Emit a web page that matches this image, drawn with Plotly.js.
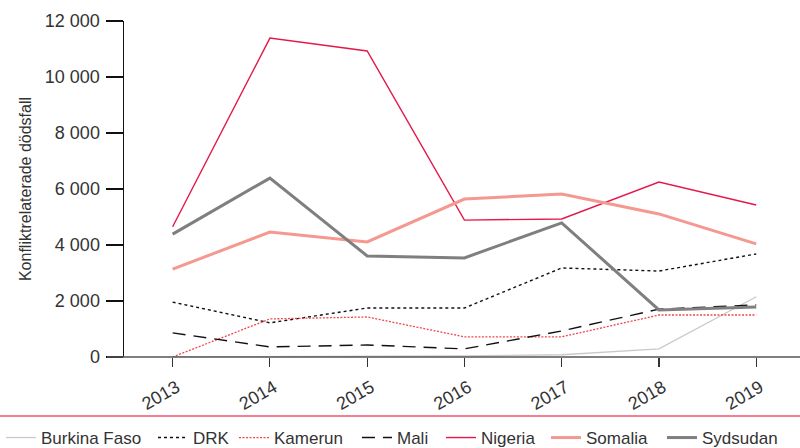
<!DOCTYPE html>
<html>
<head>
<meta charset="utf-8">
<script src="https://cdn.plot.ly/plotly-3.0.1.min.js"></script>
<style>html,body{margin:0;padding:0;background:#fff;}#chart{width:800px;height:448px;}</style>
</head>
<body>
<div id="chart"></div>
<script>
const years = [2013, 2014, 2015, 2016, 2017, 2018, 2019];
const seriesNames = ['Burkina Faso', 'DRK', 'Kamerun', 'Mali', 'Nigeria', 'Somalia', 'Sydsudan'];
const burkinaFaso = [0, 10, 20, 40, 80, 290, 2150];
const drk = [1960, 1220, 1750, 1750, 3180, 3070, 3680];
const kamerun = [0, 1360, 1430, 720, 720, 1500, 1500];
const mali = [860, 360, 430, 290, 930, 1710, 1860];
const nigeria = [4650, 11390, 10930, 4890, 4930, 6250, 5430];
const somalia = [3140, 4460, 4110, 5640, 5820, 5110, 4040];
const sydsudan = [4390, 6390, 3610, 3540, 4790, 1680, 1790];
const yTicks = [0, 2000, 4000, 6000, 8000, 10000, 12000];

const FONT = '"Liberation Sans", Arial, sans-serif';
const TXT = '#333333';

const L = 124, R = 800, T = 21, B = 357;
const pw = R - L, ph = B - T;

const styles = [
  {color: '#c9c9c9', width: 1.3},
  {color: '#111111', width: 1.4, dash: '3px,3px'},
  {color: '#f0474c', width: 1.3, dash: '2px,1.5px'},
  {color: '#111111', width: 1.4, dash: '13px,8px'},
  {color: '#e4184b', width: 1.4},
  {color: '#f49890', width: 3},
  {color: '#7f7f7f', width: 3}
];
const values = [burkinaFaso, drk, kamerun, mali, nigeria, somalia, sydsudan];
// legend item left edges in pixels
const legendPx = [1, 153, 234, 357, 441, 546, 662];

const traces = values.map((v, i) => ({
  type: 'scatter', mode: 'lines', x: years, y: v,
  name: seriesNames[i], line: styles[i],
  legend: i === 0 ? 'legend' : 'legend' + (i + 1)
}));

const layout = {
  width: 800, height: 448,
  margin: {l: L, r: 800 - R, t: T, b: 448 - B, pad: 0, autoexpand: false},
  paper_bgcolor: '#ffffff', plot_bgcolor: '#ffffff',
  font: {family: FONT, color: TXT, size: 16},
  separators: '. ',
  showlegend: true,
  xaxis: {
    range: [2012.5, 2019.45],
    tickvals: years, ticktext: years.map(String),
    tickangle: -30,
    ticks: 'outside', ticklen: 9, tickwidth: 1.2, tickcolor: '#333',
    ticklabelstandoff: 3, ticklabelshift: 4,
    showline: false, zeroline: false, showgrid: false,
    tickfont: {size: 18, color: TXT, family: FONT}
  },
  yaxis: {
    range: [0, 12000],
    tickvals: yTicks,
    tickformat: ',d', separatethousands: true,
    ticks: 'outside', ticklen: 17, tickwidth: 1.2, tickcolor: '#111',
    ticklabelstandoff: 2,
    showline: true, linecolor: '#111', linewidth: 1.5,
    showgrid: false, zeroline: false,
    tickfont: {size: 18, color: TXT, family: FONT},
    title: {text: 'Konfliktrelaterade dödsfall', font: {size: 16, color: TXT, family: FONT}, standoff: 9}
  },
  shapes: [
    {type: 'line', xref: 'paper', yref: 'paper', x0: -(L - 107) / pw, x1: 1, y0: 0, y1: 0, line: {color: '#555', width: 1.5}},
    {type: 'line', xref: 'paper', yref: 'paper', x0: -L / pw, x1: 1, y0: -(416 - B) / ph, y1: -(416 - B) / ph, line: {color: '#ef5474', width: 1.5}}
  ]
};

legendPx.forEach((px, i) => {
  const key = i === 0 ? 'legend' : 'legend' + (i + 1);
  layout[key] = {
    orientation: 'h',
    x: (px - L) / pw, xanchor: 'left',
    y: -(438 - B) / ph, yanchor: 'middle',
    font: {size: 17, color: TXT, family: FONT},
    bgcolor: 'rgba(0,0,0,0)', borderwidth: 0
  };
});

Plotly.newPlot('chart', traces, layout, {displayModeBar: false, staticPlot: true});
</script>
</body>
</html>
